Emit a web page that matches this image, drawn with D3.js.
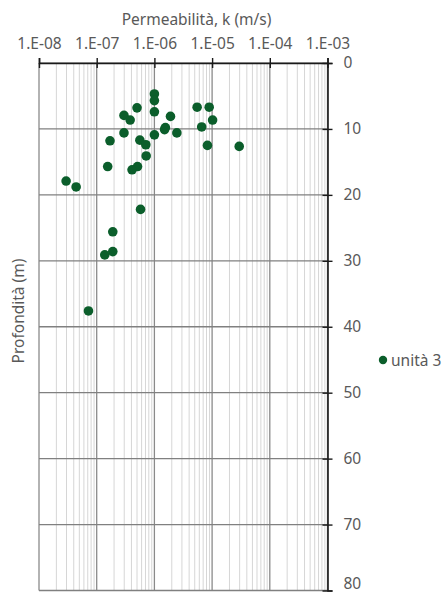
<!DOCTYPE html>
<html>
<head>
<meta charset="utf-8">
<script src="https://cdn.jsdelivr.net/npm/d3@7"></script>
<style>
  html, body { margin: 0; padding: 0; background: #fff; }
  svg { display: block; }
  text { font-family: "Noto Sans", "DejaVu Sans", sans-serif; fill: #595959; }
</style>
</head>
<body>
<svg id="chart" width="446" height="596"></svg>
<script>
// Permeability tests, unit 3: k (m/s) vs depth (m)
const permeability = [
  1.0e-6, 1.0e-6, 1.0e-6, 5.0e-7, 2.97e-7, 3.8e-7, 1.9e-6, 5.5e-6, 8.9e-6,
  1.02e-5, 6.6e-6, 1.55e-6, 1.5e-6, 2.45e-6, 1.0e-6, 2.97e-7, 1.7e-7, 5.6e-7,
  7.1e-7, 8.3e-6, 2.95e-5, 7.2e-7, 1.55e-7, 5.1e-7, 4.1e-7, 2.95e-8, 4.4e-8,
  5.75e-7, 1.9e-7, 1.9e-7, 1.38e-7, 7.2e-8
];
const depth = [
  4.7, 5.7, 7.4, 6.8, 7.95, 8.65, 8.1, 6.7, 6.7,
  8.65, 9.7, 9.8, 10.1, 10.6, 10.9, 10.6, 11.8, 11.7,
  12.4, 12.5, 12.65, 14.1, 15.7, 15.7, 16.2, 17.9, 18.8,
  22.2, 25.6, 28.6, 29.1, 37.6
];
const xTickValues = [1e-8, 1e-7, 1e-6, 1e-5, 1e-4, 1e-3];
const xTickLabels = ["1.E-08", "1.E-07", "1.E-06", "1.E-05", "1.E-04", "1.E-03"];
const yTickValues = [0, 10, 20, 30, 40, 50, 60, 70, 80];
const seriesName = "unità 3";

const FONT = '"Noto Sans", "DejaVu Sans", sans-serif';
const FS = 15.5;

const svg = d3.select("#chart");
const plot = { left: 39, right: 327.5, top: 63, bottom: 590.5 };

const x = d3.scaleLog().domain([1e-8, 1e-3]).range([plot.left, plot.right]);
const y = d3.scaleLinear().domain([0, 80]).range([plot.top, plot.bottom]);

// minor vertical gridlines (2..9 within each decade)
const minor = [];
for (let e = -8; e < -3; e++) {
  for (let m = 2; m <= 9; m++) minor.push(m * Math.pow(10, e));
}
svg.append("g").selectAll("line").data(minor).join("line")
  .attr("x1", d => x(d)).attr("x2", d => x(d))
  .attr("y1", plot.top).attr("y2", plot.bottom)
  .attr("stroke", "#d6d6d6").attr("stroke-width", 1);

// major vertical gridlines
svg.append("g").selectAll("line").data(xTickValues).join("line")
  .attr("x1", d => x(d)).attr("x2", d => x(d))
  .attr("y1", plot.top).attr("y2", plot.bottom)
  .attr("stroke", "#8a8a8a").attr("stroke-width", 1.3);

// horizontal gridlines
svg.append("g").selectAll("line").data(yTickValues).join("line")
  .attr("x1", plot.left).attr("x2", plot.right)
  .attr("y1", d => y(d)).attr("y2", d => y(d))
  .attr("stroke", "#808080").attr("stroke-width", 1.3);

// top axis (log k)
const xAxis = d3.axisTop(x).tickValues(xTickValues)
  .tickFormat((d, i) => xTickLabels[i]).tickSize(5).tickPadding(9);
const gx = svg.append("g").attr("transform", `translate(0,${plot.top})`).call(xAxis);
gx.select(".domain").attr("stroke", "#1a1a1a").attr("stroke-width", 1.6);
gx.selectAll(".tick line").attr("stroke", "#1a1a1a").attr("stroke-width", 1.4)
  .attr("y2", -5).attr("y1", 5);
gx.selectAll(".tick text").attr("font-size", FS).attr("fill", "#595959")
  .style("font-family", FONT);

// right axis (depth); the last label is lifted so it stays inside the page
const yAxis = d3.axisRight(y).tickValues(yTickValues).tickSize(5).tickPadding(11);
const gy = svg.append("g").attr("transform", `translate(${plot.right},0)`).call(yAxis);
gy.select(".domain").attr("stroke", "#1a1a1a").attr("stroke-width", 1.6);
gy.selectAll(".tick line").attr("stroke", "#1a1a1a").attr("stroke-width", 1.4)
  .attr("x1", -5).attr("x2", 5);
gy.selectAll(".tick text").attr("font-size", FS).attr("fill", "#595959")
  .style("font-family", FONT)
  .attr("dy", d => d === 80 ? "-0.12em" : "0.32em");

// data points
const pts = permeability.map((k, i) => ({ k, d: depth[i] }));
svg.append("g").selectAll("circle").data(pts).join("circle")
  .attr("cx", d => x(d.k)).attr("cy", d => y(d.d)).attr("r", 4.8)
  .attr("fill", "#0b5e2b");

// axis titles
svg.append("text").attr("x", 196.5).attr("y", 25).attr("text-anchor", "middle")
  .attr("font-size", FS).text("Permeabilità, k (m/s)");
svg.append("text").attr("transform", "translate(24,311) rotate(-90)")
  .attr("text-anchor", "middle").attr("font-size", FS).text("Profondità (m)");

// legend
svg.append("circle").attr("cx", 383).attr("cy", 360).attr("r", 4.2).attr("fill", "#0b5e2b");
svg.append("text").attr("x", 391).attr("y", 365.5).attr("font-size", FS).text(seriesName);
</script>
</body>
</html>
